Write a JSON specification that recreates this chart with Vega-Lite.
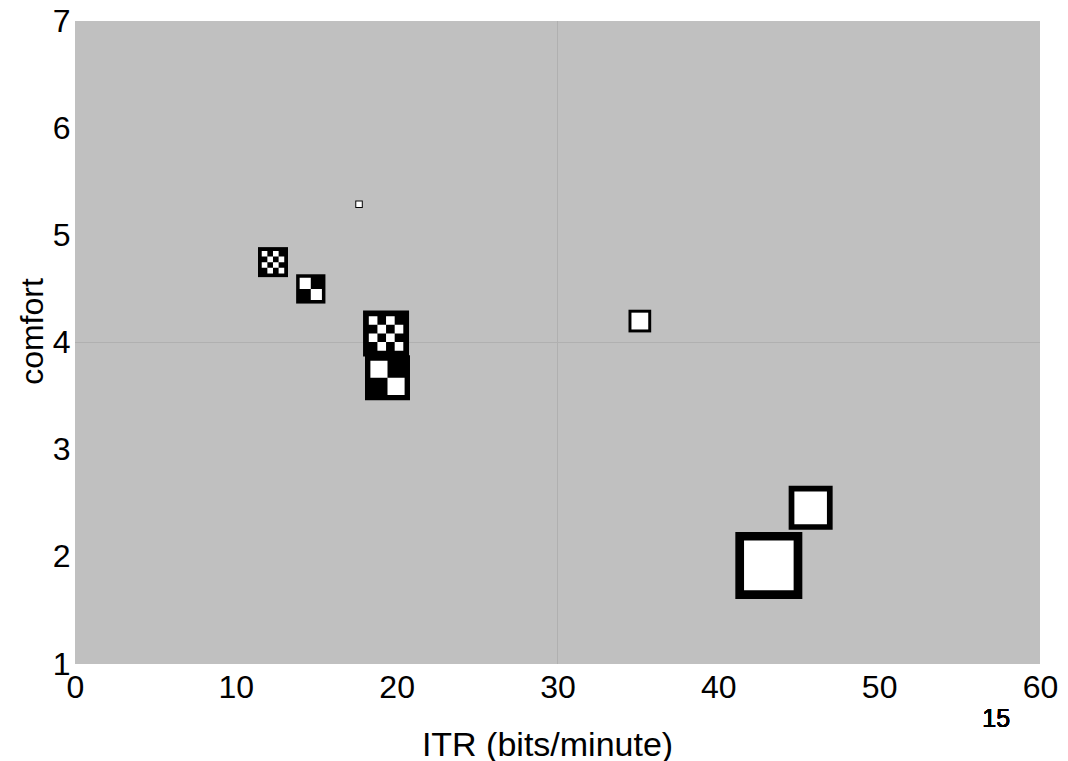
{
  "$schema": "https://vega.github.io/schema/vega-lite/v6.json",
  "autosize": "none",
  "width": 965,
  "height": 643,
  "padding": {"left": 75, "top": 21, "right": 28, "bottom": 97},
  "background": "white",
  "data": {
    "values": [
      {"itr": 17.66, "comfort": 5.29, "pattern": "plain", "area": 56},
      {"itr": 12.31, "comfort": 4.75, "pattern": "checker4", "area": 900},
      {"itr": 14.66, "comfort": 4.50, "pattern": "checker2", "area": 858},
      {"itr": 19.34, "comfort": 4.085, "pattern": "checker4", "area": 2116},
      {"itr": 19.43, "comfort": 3.67, "pattern": "checker2", "area": 2025},
      {"itr": 35.12, "comfort": 4.20, "pattern": "plain", "area": 515},
      {"itr": 45.74, "comfort": 2.457, "pattern": "plain", "area": 1936},
      {"itr": 43.14, "comfort": 1.92, "pattern": "plain", "area": 4489}
    ]
  },
  "layer": [
    {
      "mark": {"type": "rule", "color": "#b0b0b0", "strokeWidth": 1},
      "encoding": {"x": {"datum": 30, "type": "quantitative"}}
    },
    {
      "mark": {"type": "rule", "color": "#b0b0b0", "strokeWidth": 1},
      "encoding": {"y": {"datum": 4, "type": "quantitative"}}
    },
    {
      "mark": {"type": "point", "shape": "square", "filled": true, "color": "black", "opacity": 1, "strokeWidth": 0},
      "encoding": {
        "x": {"field": "itr", "type": "quantitative"},
        "y": {"field": "comfort", "type": "quantitative"},
        "size": {"field": "area", "type": "quantitative", "scale": null}
      }
    },
    {
      "mark": {"type": "point", "filled": true, "color": "white", "opacity": 1, "strokeWidth": 0},
      "encoding": {
        "x": {"field": "itr", "type": "quantitative"},
        "y": {"field": "comfort", "type": "quantitative"},
        "size": {"field": "area", "type": "quantitative", "scale": null},
        "shape": {
          "field": "pattern",
          "type": "nominal",
          "legend": null,
          "scale": {
            "domain": ["plain", "checker2", "checker4"],
            "range": [
              "M-0.74,-0.74h1.48v1.48h-1.48Z",
              "M-0.76,-0.76h0.76v0.76h-0.76Z M0,0h0.76v0.76h-0.76Z",
              "M-0.75,-0.75h0.375v0.375h-0.375Z M0,-0.75h0.375v0.375h-0.375Z M-0.375,-0.375h0.375v0.375h-0.375Z M0.375,-0.375h0.375v0.375h-0.375Z M-0.75,0h0.375v0.375h-0.375Z M0,0h0.375v0.375h-0.375Z M-0.375,0.375h0.375v0.375h-0.375Z M0.375,0.375h0.375v0.375h-0.375Z"
            ]
          }
        }
      }
    },
    {
      "mark": {"type": "text", "text": "15", "font": "Liberation Sans", "fontSize": 25, "fontWeight": "normal", "color": "black", "align": "center", "baseline": "middle"},
      "encoding": {
        "x": {"datum": 57.28, "type": "quantitative"},
        "y": {"datum": 0.49, "type": "quantitative"}
      }
    }
  ],
  "encoding": {
    "x": {
      "type": "quantitative",
      "scale": {"domain": [0, 60], "nice": false, "zero": false},
      "axis": {
        "title": "ITR (bits/minute)",
        "values": [0, 10, 20, 30, 40, 50, 60],
        "labelPadding": 8,
        "titleFontSize": 34,
        "titleBaseline": "alphabetic",
        "titleX": 472,
        "titleY": 91
      }
    },
    "y": {
      "type": "quantitative",
      "scale": {"domain": [1, 7], "nice": false, "zero": false},
      "axis": {
        "title": "comfort",
        "values": [1, 2, 3, 4, 5, 6, 7],
        "labelPadding": 5,
        "titleBaseline": "alphabetic",
        "titleX": -33,
        "titleY": 310
      }
    }
  },
  "config": {
    "view": {"fill": "#c0c0c0", "stroke": null},
    "axis": {
      "grid": false,
      "domain": false,
      "ticks": false,
      "labelFont": "Liberation Sans",
      "labelFontSize": 32,
      "labelColor": "black",
      "labelFlush": false,
      "labelOverlap": false,
      "titleFont": "Liberation Sans",
      "titleFontSize": 32,
      "titleFontWeight": "normal",
      "titleColor": "black"
    }
  }
}
